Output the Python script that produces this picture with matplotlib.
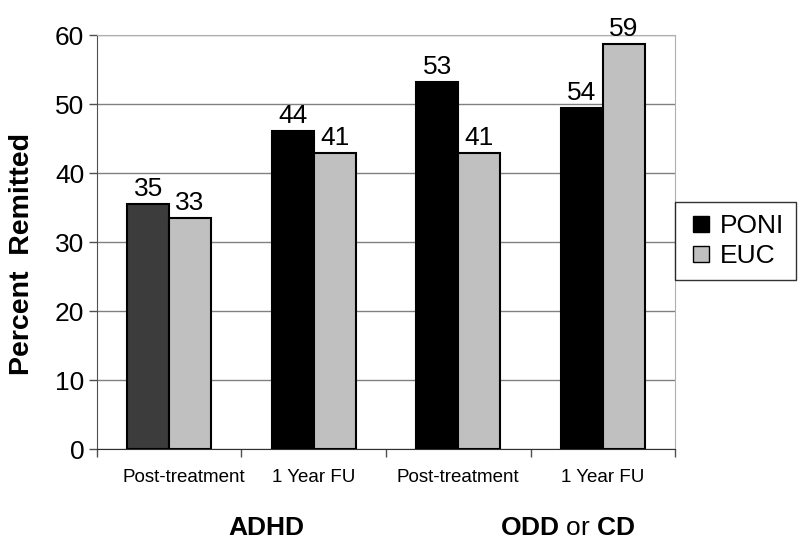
import matplotlib.pyplot as plt
import matplotlib.transforms as mtransforms
from matplotlib.lines import Line2D
import numpy as np

plt.rcParams['font.family'] = ['Liberation Sans', 'DejaVu Sans']
plt.rcParams['mathtext.fontset'] = 'custom'
plt.rcParams['mathtext.rm'] = 'Liberation Sans'
plt.rcParams['mathtext.bf'] = 'Liberation Sans:bold'

# === Data ===
timepoints = ['Post-treatment', '1 Year FU', 'Post-treatment', '1 Year FU']
groups = ['ADHD', r'$\mathbf{ODD}$ or $\mathbf{CD}$']
poni_height = [35.5, 46.1, 53.2, 49.4]
euc_height = [33.5, 42.9, 42.9, 58.7]
poni_label = ['35', '44', '53', '54']
euc_label = ['33', '41', '41', '59']

x = np.arange(len(timepoints))
w = 0.29

fig = plt.figure(figsize=(8, 5.43), dpi=100)
ax = fig.add_axes([0.121, 0.173, 0.723, 0.7625])

poni_colors = ['#3c3c3c', 'black', 'black', 'black']
b1 = ax.bar(x - w / 2, poni_height, w, color=poni_colors, edgecolor='black',
            linewidth=1.5, zorder=3)
b2 = ax.bar(x + w / 2, euc_height, w, color='#c0c0c0', edgecolor='black',
            linewidth=1.5, zorder=3)

for bars, labels in [(b1, poni_label), (b2, euc_label)]:
    for rect, lab in zip(bars, labels):
        ax.annotate(lab, (rect.get_x() + rect.get_width() / 2, rect.get_height()),
                    xytext=(0, 2), textcoords='offset points',
                    ha='center', va='bottom', fontsize=19)

ax.set_ylim(0, 60)
ax.set_xlim(-0.5, 3.5)
ax.set_yticks(range(0, 61, 10))
ax.yaxis.grid(True, color='#808080', linewidth=1, zorder=0)
ax.tick_params(axis='y', labelsize=19, length=6, width=1, color='#505050', pad=3)

# group separators as major ticks, labels on minor ticks
ax.set_xticks([-0.5, 0.5, 1.5, 2.5, 3.5])
ax.set_xticklabels([])
ax.set_xticks(x, minor=True)
ax.set_xticklabels(timepoints, minor=True)
ax.tick_params(axis='x', which='major', length=6, width=1, color='#505050')
ax.tick_params(axis='x', which='minor', length=0, labelsize=13.5, pad=14)
# first label sits a bit right of its group in the original
first = ax.get_xticklabels(minor=True)[0]
first.set_transform(first.get_transform() +
                    mtransforms.ScaledTranslation(0.15, 0, fig.dpi_scale_trans))

for side in ['top', 'right']:
    ax.spines[side].set_color('#b0b0b0')
ax.spines['left'].set_color('#505050')
ax.spines['bottom'].set_color('#303030')

ax.set_ylabel('Percent  Remitted', fontsize=20.5, fontweight='bold')
ax.yaxis.set_label_coords(-0.107, 0.471)

trans = mtransforms.blended_transform_factory(ax.transData, ax.transAxes)
ax.text(0.67, -0.19, groups[0], transform=trans, ha='center', va='center',
        fontsize=19, fontweight='bold')
ax.text(2.755, -0.19, groups[1], transform=trans, ha='center', va='center',
        fontsize=19)

handles = [
    Line2D([], [], marker='s', linestyle='none', markersize=11,
           markerfacecolor='black', markeredgecolor='black', label='PONI'),
    Line2D([], [], marker='s', linestyle='none', markersize=11,
           markerfacecolor='#c0c0c0', markeredgecolor='black', label='EUC'),
]
leg = ax.legend(handles=handles, loc='upper left', bbox_to_anchor=(1.0, 0.597),
                fontsize=19, frameon=True, fancybox=False, edgecolor='black',
                handlelength=1.06, handletextpad=0.17,
                borderpad=0.45, labelspacing=0.25, borderaxespad=0)
leg.get_frame().set_linewidth(1)

plt.savefig('out.png', dpi=100)
